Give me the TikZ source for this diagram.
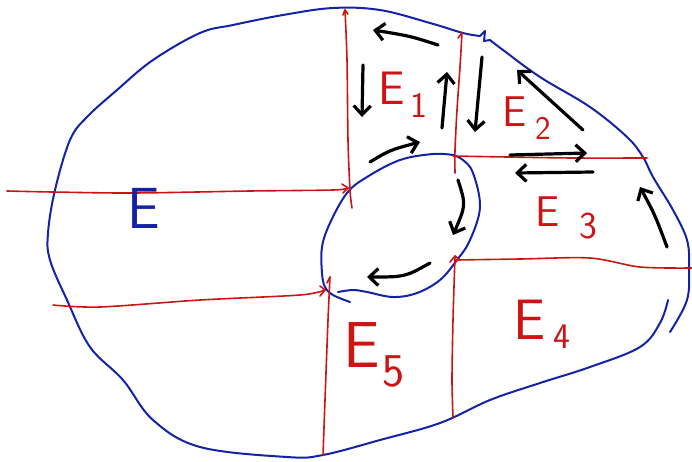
\documentclass[tikz,border=0pt]{standalone}
\usetikzlibrary{arrows.meta}
\definecolor{inkblue}{RGB}{20,35,165}
\definecolor{inkred}{RGB}{205,20,20}
\tikzset{
  bl/.style={draw=inkblue,line width=2pt,line cap=round,line join=round},
  rd/.style={draw=inkred,line width=1.6pt,line cap=round,line join=round},
  arr/.style={draw=black,line width=3.2pt,line cap=round,line join=round,-{Straight Barb[length=9pt,width=17pt]}},
  lab/.style={text=inkred,font=\sffamily,inner sep=0pt},
}
\begin{document}
\begin{tikzpicture}[x=1pt,y=-1pt]
\useasboundingbox (0,0) rectangle (692,461);
% outer boundary
\draw[bl] plot[smooth,tension=0.6] coordinates {(480,36) (463,33) (430,23) (380,10) (333,8) (283,15) (233,25) (200,33) (153,60) (117,90) (87,117) (70,140) (55,190) (48,233) (50,260) (67,300) (90,347) (123,380) (153,420) (200,447) (287,457) (323,455) (380,440) (440,423) (490,400) (540,383) (590,367) (640,347) (660,323) (668,300)};
\draw[bl] (480,36) -- (485,31) -- (484,41) -- (490,40);
\draw[bl] plot[smooth,tension=0.6] coordinates {(490,40) (503,50) (540,77) (590,107) (627,137) (643,157) (653,177) (673,210) (687,240) (689,267) (687,300) (670,332)};
% inner loop
\draw[bl] plot[smooth,tension=0.6] coordinates {(453,155) (433,154) (400,160) (367,177) (347,193) (330,223) (322,247) (322,273) (325,287) (333,295) (350,302)};
\draw[bl] plot[smooth,tension=0.6] coordinates {(338,292) (353,290) (367,292) (393,297) (417,293) (440,280) (457,260) (470,240) (480,207) (473,173) (463,160) (453,155)};
% red cuts
\draw[rd] plot[smooth] coordinates {(7,191) (53,192) (133,193) (250,191) (333,190) (348,188)};
\draw[rd] plot[smooth] coordinates {(345,10) (347,60) (348,140) (350,190) (352,208)};
\draw[rd] (343,15) -- (345,10) -- (348,14);
\draw[rd] (342,184) -- (348,188) -- (343,193);
\draw[rd] plot[smooth] coordinates {(462,33) (460,67) (457,110) (455,150) (455,173)};
\draw[rd] (458,38) -- (462,33);
\draw[rd] plot[smooth] coordinates {(453,156) (507,157) (573,158) (647,158)};
\draw[rd] plot[smooth] coordinates {(455,260) (520,259) (590,258) (640,267) (692,268)};
\draw[rd] plot[smooth] coordinates {(455,256) (453,320) (452,380) (453,417)};
\draw[rd] (450,262) -- (455,256) -- (460,260);
\draw[rd] plot[smooth] coordinates {(53,305) (100,307) (200,300) (300,295) (325,290)};
\draw[rd] (320,286) -- (325,290) -- (320,296);
\draw[rd] plot[smooth] coordinates {(330,277) (328,320) (325,400) (323,455)};
\draw[rd] (327,283) -- (330,277);
% black arrows
\draw[arr] (438,45) .. controls (410,36) .. (373,30);
\draw[arr] (363,65) -- (362,117);
\draw[arr] (442,128) -- (447,72);
\draw[arr] (482,57) -- (475,132);
\draw[arr] (583,130) .. controls (550,100) .. (517,70);
\draw[arr] (510,155) -- (587,153);
\draw[arr] (593,172) -- (515,173);
\draw[arr] (667,247) .. controls (655,215) .. (640,187);
\draw[arr] (370,162) .. controls (390,150) .. (420,142);
\draw[arr] (458,180) .. controls (466,205) .. (453,235);
\draw[arr] (430,263) .. controls (405,277) .. (367,277);
% labels
\node[lab,font=\sffamily\fontsize{47}{47}\selectfont] (e1) at (392,88) {E};
\node[lab,font=\sffamily\fontsize{36}{36}\selectfont] (e1s) at (419,105) {1};
\node[lab,font=\sffamily\fontsize{43}{43}\selectfont] (e2) at (515,112) {E};
\node[lab,font=\sffamily\fontsize{33}{33}\selectfont] (e2s) at (543,128) {2};
\node[lab,font=\sffamily\fontsize{43}{43}\selectfont] (e3) at (548,212) {E};
\node[lab,font=\sffamily\fontsize{38}{38}\selectfont] (e3s) at (588,226) {3};
\node[lab,font=\sffamily\fontsize{57}{57}\selectfont] (e4) at (529,320) {E};
\node[lab,font=\sffamily\fontsize{36}{36}\selectfont] (e4s) at (562,337) {4};
\node[lab,font=\sffamily\fontsize{65}{65}\selectfont] (e5) at (362,345) {E};
\node[lab,font=\sffamily\fontsize{47}{47}\selectfont] (e5s) at (394,371) {5};
\node[lab,text=inkblue,font=\sffamily\fontsize{58}{58}\selectfont] (e) at (144,208) {E};
\end{tikzpicture}
\end{document}
